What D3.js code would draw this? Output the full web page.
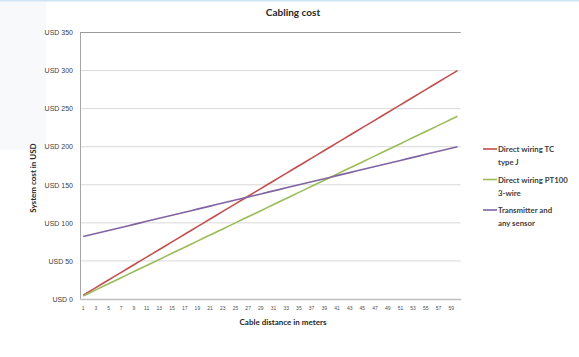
<!DOCTYPE html>
<html><head><meta charset="utf-8">
<script src="https://cdn.jsdelivr.net/npm/d3@7"></script>
<style>body{margin:0;background:#fff}svg{display:block;font-family:Lato,"Open Sans",sans-serif}</style>
</head><body>
<svg id="c" width="579" height="357"></svg>
<script>
const distances = d3.range(1, 61);
const tcTypeJ = distances.map(d => 5 * d);
const pt100 = distances.map(d => 4 * d);
const transmitter = distances.map(d => 80 + 2 * d);
const yTicks = [0, 50, 100, 150, 200, 250, 300, 350];
const seriesNames = [["Direct wiring TC", "type J"], ["Direct wiring PT100", "3-wire"], ["Transmitter and", "any sensor"]];
const seriesColors = ["#C0504D", "#9BBB59", "#8064A2"];
const seriesValues = [tcTypeJ, pt100, transmitter];

const svg = d3.select("#c");
svg.append("rect").attr("x",0).attr("y",0).attr("width",46).attr("height",150).attr("fill","#F8F9FB");
svg.append("rect").attr("x",0).attr("y",0).attr("width",579).attr("height",1.5).attr("fill","#CFE6F6");

const L = 80, R = 460.7, T = 32.5, B = 299;
const x = d3.scaleBand().domain(distances).range([L, R]);
const y = d3.scaleLinear().domain([0, 350]).range([B, T]);

// gridlines
svg.append("g").selectAll("line").data(yTicks.slice(1)).join("line")
  .attr("x1", L).attr("x2", R).attr("y1", d => y(d)).attr("y2", d => y(d))
  .attr("stroke", d => d === 350 ? "#9a9a9a" : "#D9D9D9").attr("stroke-width", 1);

// y axis
const ya = svg.append("g").attr("transform", `translate(${L},0)`)
  .call(d3.axisLeft(y).tickValues(yTicks).tickSize(0).tickPadding(7).tickFormat(d => "USD " + d));
ya.select(".domain").attr("stroke", "#A6A6A6");
ya.selectAll("text").attr("font-size", 7).attr("fill", "#404040");

// x axis
const xa = svg.append("g").attr("transform", `translate(0,${B})`)
  .call(d3.axisBottom(x).tickValues(distances.filter(d => d % 2 === 1)).tickSize(0).tickPadding(7));
xa.select(".domain").attr("stroke", "#BFBFBF").attr("stroke-width", 1.5);
xa.selectAll("text").attr("font-size", 5).attr("fill", "#505050");

// lines
const line = d3.line().x((d, i) => x(distances[i]) + x.bandwidth() / 2).y(d => y(d));
svg.append("g").selectAll("path").data(seriesValues).join("path")
  .attr("d", line).attr("fill", "none")
  .attr("stroke", (d, i) => seriesColors[i]).attr("stroke-width", 1.6);

// titles
svg.append("text").attr("x", 293).attr("y", 16).attr("text-anchor", "middle")
  .attr("font-size", 10).attr("font-weight", "bold").attr("fill", "#262626").text("Cabling cost");
svg.append("text").attr("x", 283).attr("y", 325).attr("text-anchor", "middle")
  .attr("font-size", 8).attr("font-weight", "bold").attr("fill", "#262626").text("Cable distance in meters");
svg.append("text").attr("transform", "translate(36,178) rotate(-90)").attr("text-anchor", "middle")
  .attr("font-size", 8).attr("font-weight", "bold").attr("fill", "#262626").text("System cost in USD");

// legend
const lg = svg.append("g").selectAll("g").data(seriesNames).join("g")
  .attr("transform", (d, i) => `translate(483,${149 + i * 30.5})`);
lg.append("line").attr("x1", 0).attr("x2", 14).attr("y1", 0).attr("y2", 0)
  .attr("stroke", (d, i) => seriesColors[i]).attr("stroke-width", 1.6);
lg.append("text").attr("x", 15).attr("y", 3).attr("font-size", 7.8).attr("font-weight", "bold")
  .attr("fill", "#404040").text(d => d[0]);
lg.append("text").attr("x", 15).attr("y", 16).attr("font-size", 7.8).attr("font-weight", "bold")
  .attr("fill", "#404040").text(d => d[1]);
</script>
</body></html>
